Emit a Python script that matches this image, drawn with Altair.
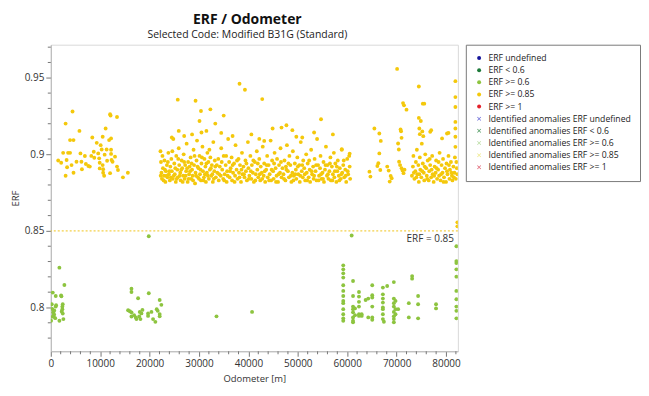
import altair as alt
import pandas as pd

# ---------------- data ----------------
categories = [
    "ERF undefined", "ERF < 0.6", "ERF >= 0.6", "ERF >= 0.85", "ERF >= 1",
    "Identified anomalies ERF undefined", "Identified anomalies ERF < 0.6",
    "Identified anomalies ERF >= 0.6", "Identified anomalies ERF >= 0.85",
    "Identified anomalies ERF >= 1",
]

# yellow points (ERF >= 0.85): (odometer m, ERF)
yellow_west = [
    (2100, 0.8945), (3000, 0.9201), (3000, 0.8860), (3200, 0.8963), (3300, 0.8916),
    (3500, 0.9010), (3900, 0.9010), (3900, 0.9093), (4400, 0.9280), (4600, 0.9093),
    (4600, 0.8880), (5200, 0.8952), (5800, 0.9153), (6000, 0.9006), (6200, 0.8952),
    (6300, 0.8903), (6900, 0.8989), (7100, 0.8937), (7600, 0.8924), (7900, 0.8920),
    (8400, 0.9110), (8700, 0.9017), (8800, 0.8978), (9300, 0.9075), (9600, 0.9006),
    (9900, 0.8945), (9900, 0.8908), (10100, 0.9060), (10300, 0.9032), (10500, 0.8930),
    (10600, 0.8903), (10600, 0.8880), (10800, 0.8860), (10900, 0.8998), (11100, 0.9169),
    (11300, 0.9032), (11400, 0.8958), (11800, 0.9093), (12000, 0.9262), (12100, 0.9253),
    (12200, 0.9030), (12200, 0.9003), (12200, 0.9104), (12300, 0.8963), (12000, 0.8877),
    (12500, 0.8952), (13000, 0.8985), (13400, 0.9244), (13400, 0.8920), (13600, 0.8898),
    (14600, 0.8850), (15600, 0.8880), (10500, 0.9115), (1500, 0.8960), (2500, 0.9010),
    (9800, 0.8974), (8200, 0.8990), (4200, 0.8930),
]

yellow_mid_a = [
    (22200, 0.902), (22300, 0.895), (22400, 0.888), (22500, 0.884), (22700, 0.891),
    (22900, 0.886), (23000, 0.896), (23200, 0.882), (23300, 0.889), (23500, 0.893),
    (23600, 0.885), (23800, 0.901), (23900, 0.887), (24100, 0.883), (24200, 0.892),
    (24400, 0.897), (24500, 0.889), (24700, 0.884), (24800, 0.910), (25000, 0.894),
    (25100, 0.887), (25300, 0.882), (25400, 0.899), (25600, 0.890), (25700, 0.885),
    (25900, 0.904), (26000, 0.893), (26200, 0.888), (26300, 0.883), (26500, 0.896),
    (26600, 0.891), (26800, 0.886), (26900, 0.900), (27100, 0.884), (27200, 0.893),
    (27400, 0.889), (27500, 0.907), (27700, 0.882), (27800, 0.895), (28000, 0.887),
    (28100, 0.892), (28300, 0.898), (28400, 0.884), (28600, 0.890), (28700, 0.886),
    (28900, 0.903), (29000, 0.893), (29200, 0.881), (29300, 0.888), (29500, 0.896),
    (29600, 0.909), (29800, 0.885), (29900, 0.891), (30100, 0.899), (30200, 0.887),
    (30400, 0.883), (30500, 0.894), (30700, 0.905), (30800, 0.889), (31000, 0.885),
    (31100, 0.897), (31300, 0.892), (31400, 0.882), (31600, 0.888), (31700, 0.901),
    (31900, 0.895), (32000, 0.884), (32200, 0.890), (32300, 0.898), (32500, 0.886),
    (32600, 0.893), (32800, 0.882), (32900, 0.908), (33100, 0.889), (33200, 0.896),
    (33400, 0.885),
    (22250, 0.886), (22600, 0.899), (22850, 0.883), (23100, 0.890), (23400, 0.886),
    (23700, 0.895), (24000, 0.889), (24300, 0.885), (24600, 0.902), (24900, 0.886),
    (25200, 0.891), (25500, 0.884), (25800, 0.897), (26100, 0.886), (26400, 0.890),
    (26700, 0.882), (27000, 0.895), (27300, 0.886), (27600, 0.891), (27900, 0.884),
    (28200, 0.889), (28500, 0.894), (28800, 0.883), (29100, 0.899), (29400, 0.886),
    (29700, 0.892), (30000, 0.884), (30300, 0.890), (30600, 0.898), (30900, 0.883),
    (31200, 0.887), (31500, 0.894), (31800, 0.886), (32100, 0.903), (32400, 0.891),
    (32700, 0.887), (33000, 0.884), (33300, 0.892),
]

yellow_mid_b = [
    (33700, 0.888), (33900, 0.897), (34000, 0.883), (34200, 0.892), (34400, 0.886),
    (34500, 0.904), (34700, 0.890), (34900, 0.884), (35000, 0.899), (35200, 0.887),
    (35400, 0.893), (35600, 0.882), (35700, 0.889), (35900, 0.910), (36100, 0.895),
    (36200, 0.885), (36400, 0.891), (36600, 0.898), (36700, 0.883), (36900, 0.888),
    (37100, 0.894), (37300, 0.886), (37400, 0.906), (37600, 0.890), (37800, 0.884),
    (38000, 0.897), (38100, 0.888), (38300, 0.893), (38500, 0.882), (38700, 0.901),
    (38800, 0.887), (39000, 0.892), (39200, 0.885), (39400, 0.896), (39500, 0.889),
    (39700, 0.883), (39900, 0.908), (40000, 0.891), (40200, 0.886), (40400, 0.899),
    (40600, 0.884), (40700, 0.893), (40900, 0.888), (41100, 0.882), (41300, 0.895),
    (41500, 0.887), (41700, 0.902), (41800, 0.890), (42000, 0.885), (42200, 0.897),
    (42400, 0.883), (42500, 0.892), (42700, 0.888), (42900, 0.905), (43100, 0.886),
    (43200, 0.894), (43400, 0.882), (43600, 0.890), (43800, 0.899), (43900, 0.885),
    (44100, 0.893), (44300, 0.887), (44500, 0.909), (44600, 0.883), (44800, 0.896),
    (45000, 0.889), (45100, 0.884), (45300, 0.901), (45500, 0.891), (45700, 0.886),
    (45800, 0.897), (46000, 0.882), (46200, 0.893), (46400, 0.888), (46500, 0.904),
    (46700, 0.885), (46900, 0.891),
    (33600, 0.893), (34100, 0.887), (34600, 0.895), (35100, 0.883), (35500, 0.899),
    (35800, 0.886), (36300, 0.889), (36800, 0.893), (37200, 0.882), (37700, 0.896),
    (38200, 0.885), (38600, 0.890), (39100, 0.887), (39600, 0.894), (40100, 0.884),
    (40500, 0.889), (41000, 0.896), (41400, 0.883), (41900, 0.894), (42300, 0.887),
    (42800, 0.884), (43300, 0.889), (43700, 0.893), (44200, 0.883), (44700, 0.890),
    (45200, 0.894), (45600, 0.882), (46100, 0.887), (46600, 0.895),
]

yellow_mid_c = [
    (47100, 0.887), (47300, 0.896), (47500, 0.883), (47600, 0.892), (47800, 0.906),
    (48000, 0.889), (48200, 0.885), (48300, 0.899), (48500, 0.893), (48700, 0.882),
    (48900, 0.888), (49000, 0.902), (49200, 0.886), (49400, 0.894), (49600, 0.890),
    (49700, 0.884), (49900, 0.898), (50100, 0.887), (50300, 0.893), (50400, 0.882),
    (50600, 0.908), (50800, 0.889), (51000, 0.885), (51100, 0.896), (51300, 0.891),
    (51500, 0.883), (51700, 0.900), (51800, 0.888), (52000, 0.894), (52200, 0.885),
    (52400, 0.890), (52500, 0.882), (52700, 0.903), (52900, 0.887), (53100, 0.892),
    (53200, 0.884), (53400, 0.897), (53600, 0.889), (53800, 0.883), (53900, 0.910),
    (54100, 0.893), (54300, 0.886), (54500, 0.891), (54600, 0.899), (54800, 0.884),
    (55000, 0.888), (55200, 0.895), (55300, 0.882), (55500, 0.890), (55700, 0.905),
    (55900, 0.886), (56000, 0.893), (56200, 0.884), (56400, 0.889), (56600, 0.898),
    (56700, 0.883), (56900, 0.892), (57100, 0.887), (57300, 0.901), (57400, 0.885),
    (57600, 0.894), (57800, 0.882), (58000, 0.889), (58100, 0.896), (58300, 0.886),
    (58500, 0.891), (58700, 0.884), (58900, 0.903), (59000, 0.888), (59200, 0.893),
    (59400, 0.885), (59600, 0.890), (59800, 0.882), (60000, 0.897), (60200, 0.887),
    (60400, 0.899), (60500, 0.892), (60600, 0.884),
    (47200, 0.884), (47700, 0.890), (48100, 0.894), (48600, 0.886), (49100, 0.883),
    (49500, 0.887), (50000, 0.892), (50500, 0.886), (50900, 0.893), (51400, 0.887),
    (51900, 0.883), (52300, 0.896), (52800, 0.889), (53300, 0.886), (53700, 0.893),
    (54200, 0.883), (54700, 0.887), (55100, 0.884), (55600, 0.893), (56100, 0.887),
    (56500, 0.894), (57000, 0.883), (57500, 0.889), (57900, 0.892), (58400, 0.883),
    (58800, 0.887), (59300, 0.896), (59700, 0.886), (60100, 0.889),
]

yellow_mid_high = [
    (25700, 0.9357), (29300, 0.9350), (30400, 0.9283), (32300, 0.9294), (30100, 0.9218),
    (25900, 0.9153), (33300, 0.9201), (35000, 0.9253), (30500, 0.9143), (31500, 0.9153),
    (38200, 0.9461), (39300, 0.9422), (42800, 0.9361), (44900, 0.9169), (46700, 0.9175),
    (47700, 0.9190), (48900, 0.9158), (49700, 0.9115), (50900, 0.9110), (53300, 0.9143),
    (54700, 0.9229), (57100, 0.9130), (42200, 0.9101), (43200, 0.9088), (58900, 0.9034),
    (60500, 0.9005), (27000, 0.9120), (28600, 0.9130), (34500, 0.9140), (36800, 0.9120),
    (40600, 0.9130), (24500, 0.9110),
]

yellow_east = [
    (64500, 0.8887), (64700, 0.8855), (65500, 0.9169), (66300, 0.8942), (66500, 0.9006),
    (66500, 0.9136), (66700, 0.8898), (66800, 0.9088), (66100, 0.8924), (68100, 0.8920),
    (68400, 0.8894), (68800, 0.8859), (69000, 0.8844), (68600, 0.8822),
    (70100, 0.9558), (71300, 0.9335), (71500, 0.9320), (72000, 0.9292),
    (70800, 0.9162), (70900, 0.9151), (71000, 0.9108), (70300, 0.9071), (70450, 0.9032),
    (70500, 0.8952), (70700, 0.8930), (71000, 0.8910), (71200, 0.8895), (71400, 0.8877),
    (71600, 0.8900),
    (74500, 0.9443), (75300, 0.9331), (75600, 0.9331), (74500, 0.9238), (74900, 0.9218),
    (74600, 0.9169), (75200, 0.9150), (76800, 0.9147), (74700, 0.9132), (75400, 0.9119),
    (77000, 0.9158), (79200, 0.9104), (80200, 0.9136), (80500, 0.9140),
    (81900, 0.9478), (81900, 0.9374), (81900, 0.9309), (81900, 0.9212), (81900, 0.9169),
    (81900, 0.9115), (81900, 0.9049), (82300, 0.8556), (82300, 0.8530),
    (73100, 0.886), (73300, 0.892), (73400, 0.899), (73600, 0.884), (73800, 0.889),
    (73900, 0.895), (74100, 0.903), (74200, 0.887), (74400, 0.893), (74500, 0.882),
    (74700, 0.898), (74800, 0.890), (75000, 0.885), (75100, 0.907), (75300, 0.894),
    (75500, 0.888), (75600, 0.883), (75800, 0.900), (76000, 0.891), (76100, 0.886),
    (76300, 0.896), (76500, 0.883), (76600, 0.889), (76800, 0.893), (77000, 0.885),
    (77200, 0.899), (77300, 0.887), (77500, 0.882), (77700, 0.892), (77900, 0.888),
    (78000, 0.896), (78200, 0.884), (78400, 0.890), (78600, 0.886), (78700, 0.901),
    (78900, 0.883), (79100, 0.893), (79300, 0.888), (79400, 0.897), (79600, 0.885),
    (79800, 0.891), (80000, 0.882), (80100, 0.894), (80300, 0.887), (80500, 0.899),
    (80700, 0.884), (80800, 0.890), (81000, 0.895), (81200, 0.886), (81300, 0.883),
    (81500, 0.892), (81700, 0.888), (81800, 0.898), (82000, 0.884), (82200, 0.891),
    (82300, 0.887),
    (73500, 0.888), (74000, 0.885), (74600, 0.887), (75200, 0.889), (75700, 0.892),
    (76200, 0.884), (76700, 0.897), (77100, 0.890), (77600, 0.886), (78100, 0.891),
    (78500, 0.895), (79000, 0.887), (79500, 0.882), (80200, 0.889), (80600, 0.893),
    (81100, 0.888), (81600, 0.885), (82100, 0.895),
]

# green points (ERF >= 0.6)
green_west = [
    (60, 0.7913), (200, 0.8021), (300, 0.7990), (400, 0.8097), (500, 0.7968),
    (600, 0.7945), (660, 0.7955), (700, 0.7980), (1000, 0.8075), (1000, 0.8006),
    (1070, 0.8015), (1740, 0.8260), (1740, 0.7913), (2080, 0.8078), (2150, 0.8073),
    (2210, 0.7974), (2340, 0.8006), (2340, 0.7989), (2420, 0.8021), (2420, 0.7960),
    (2550, 0.7924), (2750, 0.8147), (400, 0.7940), (900, 0.7930),
]

green_mid = [
    (16330, 0.8123), (16330, 0.8101), (17670, 0.8060), (19830, 0.8465), (19830, 0.8093),
    (22040, 0.8049), (22380, 0.8017), (15650, 0.7982), (16000, 0.7975), (16330, 0.7968),
    (16860, 0.7950), (17200, 0.7935), (18010, 0.7971), (18350, 0.7961), (18150, 0.7924),
    (17900, 0.7941), (18550, 0.7984), (19690, 0.7961), (19690, 0.7945), (20370, 0.7971),
    (20700, 0.7924), (21170, 0.7906), (21440, 0.7989), (21640, 0.7978), (22040, 0.7957),
    (22040, 0.7942), (17340, 0.7924), (16330, 0.7941),
    (33540, 0.7942), (40740, 0.7971), (60900, 0.8470),
]

green_east = [
    (59200, 0.8275), (59200, 0.8249), (59200, 0.8223), (59200, 0.8195), (59200, 0.8145),
    (59200, 0.8108), (59200, 0.8075), (59200, 0.8043), (59200, 0.8028), (59200, 0.7989),
    (59200, 0.7956), (59200, 0.7929), (59200, 0.7913),
    (61180, 0.8173), (61180, 0.8075), (61180, 0.8006), (61180, 0.7989), (61180, 0.7968),
    (61180, 0.7935), (61180, 0.7913), (61180, 0.7903),
    (61580, 0.7994), (61580, 0.7950),
    (62380, 0.8101), (62380, 0.8071), (62380, 0.8037), (62380, 0.8006), (62380, 0.7956),
    (62380, 0.7945), (62930, 0.7956), (62930, 0.7945), (63730, 0.8049),
    (64260, 0.8058), (64260, 0.7935),
    (65070, 0.8145), (65070, 0.8080), (65070, 0.8065), (65070, 0.8006), (65070, 0.7935),
    (65070, 0.7920),
    (67220, 0.8130), (67220, 0.8086), (67220, 0.8058), (67220, 0.8032), (67220, 0.8000),
    (67220, 0.7989), (67220, 0.7956), (67220, 0.7924), (67430, 0.7907), (68090, 0.8140),
    (69440, 0.8166), (69440, 0.8058), (69440, 0.8028), (69440, 0.8006), (69440, 0.7971),
    (69440, 0.7942), (69440, 0.7924), (69440, 0.7903),
    (69780, 0.8043), (69780, 0.7989), (69780, 0.7956), (70310, 0.7989),
    (72470, 0.8028), (72470, 0.7935), (73140, 0.8205), (73140, 0.8188),
    (74350, 0.8075), (74350, 0.8021), (74350, 0.7929), (77980, 0.8021), (77980, 0.7994),
    (82100, 0.8400), (82100, 0.8303), (82100, 0.8290), (82100, 0.8249), (82100, 0.8201),
    (82100, 0.8108), (82100, 0.8054), (82100, 0.8006), (82100, 0.7978), (82100, 0.7929),
]

threshold_value = 0.85
threshold_label = "ERF = 0.85"
x_domain = [0, 82400]
y_domain = [0.7714, 0.9716]
x_major_ticks = [0, 10000, 20000, 30000, 40000, 50000, 60000, 70000, 80000]
x_minor_ticks = [2000, 4000, 6000, 8000, 12000, 14000, 16000, 18000, 22000, 24000, 26000,
                 28000, 32000, 34000, 36000, 38000, 42000, 44000, 46000, 48000, 52000,
                 54000, 56000, 58000, 62000, 64000, 66000, 68000, 72000, 74000, 76000,
                 78000, 82000]
y_major_ticks = [0.80, 0.85, 0.90, 0.95]
y_minor_ticks = [0.78, 0.79, 0.81, 0.82, 0.83, 0.84, 0.86, 0.87, 0.88, 0.89,
                 0.91, 0.92, 0.93, 0.94, 0.96, 0.97]

# ---------------- styling ----------------
FONT = "Open Sans"
W, H = 409, 308
TICK = "#777777"
X_SHAPE = "M-0.75,-1L0,-0.25L0.75,-1L1,-0.75L0.25,0L1,0.75L0.75,1L0,0.25L-0.75,1L-1,0.75L-0.25,0L-1,-0.75Z"
legend_colors = ["#14149a", "#1d7a3a", "#8dc43f", "#f4c80b", "#e3202a",
                 "#6a6ad8", "#4f9a60", "#b9dca2", "#efe98a", "#e06474"]
legend_shapes = ["circle"] * 5 + [X_SHAPE] * 5

rows = []
for odo, erf in yellow_west + yellow_mid_a + yellow_mid_b + yellow_mid_c + yellow_mid_high + yellow_east:
    rows.append({"odometer": odo, "erf": erf, "category": "ERF >= 0.85"})
for odo, erf in green_west + green_mid + green_east:
    rows.append({"odometer": odo, "erf": erf, "category": "ERF >= 0.6"})
df = pd.DataFrame(rows)

x_scale = alt.Scale(domain=x_domain, nice=False, zero=False)
y_scale = alt.Scale(domain=y_domain, nice=False, zero=False)

x_axis = alt.Axis(values=x_major_ticks, format="d", tickSize=5, labelFlush=False)
y_axis = alt.Axis(values=y_major_ticks, format=".2~f", tickSize=5)

points = alt.Chart(df).mark_point(filled=True, size=15, opacity=1, clip=True).encode(
    x=alt.X("odometer:Q", scale=x_scale, axis=x_axis, title="Odometer [m]"),
    y=alt.Y("erf:Q", scale=y_scale, axis=y_axis, title="ERF"),
    color=alt.Color("category:N", scale=alt.Scale(domain=categories, range=legend_colors),
                    legend=alt.Legend(title=None)),
    shape=alt.Shape("category:N", scale=alt.Scale(domain=categories, range=legend_shapes),
                    legend=alt.Legend(title=None)),
)

thr_df = pd.DataFrame({"erf": [threshold_value], "odometer": [x_domain[1]], "label": [threshold_label]})

rule = alt.Chart(thr_df).mark_rule(color="#f0c419", strokeDash=[2, 2], strokeWidth=1).encode(
    y=alt.Y("erf:Q", scale=y_scale, title="ERF"),
)
label = alt.Chart(thr_df).mark_text(align="right", baseline="middle", dx=-4, dy=8,
                                    fontSize=10, font=FONT, color="#333333").encode(
    x=alt.X("odometer:Q", scale=x_scale, title="Odometer [m]"),
    y=alt.Y("erf:Q", scale=y_scale, title="ERF"),
    text="label:N",
)

y_minor = alt.Chart(pd.DataFrame({"erf": y_minor_ticks})).mark_rule(
    color=TICK, strokeWidth=1, clip=False).encode(
    y=alt.Y("erf:Q", scale=y_scale, title="ERF"),
    x=alt.value(-3), x2=alt.value(0),
)
x_minor = alt.Chart(pd.DataFrame({"odometer": x_minor_ticks})).mark_rule(
    color=TICK, strokeWidth=1, clip=False).encode(
    x=alt.X("odometer:Q", scale=x_scale, title="Odometer [m]"),
    y=alt.value(H), y2=alt.value(H + 3),
)

chart = alt.layer(points, rule, label, y_minor, x_minor).properties(
    width=W,
    height=H,
    padding={"left": 2, "top": 4, "right": 0, "bottom": 0},
    title=alt.TitleParams(
        text="ERF / Odometer",
        subtitle="Selected Code: Modified B31G (Standard)",
        fontSize=14, fontWeight="bold", font=FONT, color="#111111",
        subtitleFontSize=10.5, subtitleFont=FONT, subtitleColor="#222222",
        subtitlePadding=3, offset=4, anchor="middle", dx=-7,
    ),
).configure_view(
    stroke="#d9d9d9", strokeWidth=1,
).configure_axis(
    grid=False, domainColor="#b5b5b5", tickColor=TICK,
    labelColor="#333333", labelFont=FONT, labelFontSize=10, labelPadding=2,
    titleColor="#333333", titleFont=FONT, titleFontSize=9.5, titleFontWeight="normal",
).configure_axisY(
    titlePadding=4,
).configure_axisX(
    titlePadding=5,
).configure_legend(
    orient="right", offset=8, padding=9, strokeColor="#7a7a7a", fillColor="white",
    labelFont=FONT, labelFontSize=8.7, labelColor="#222222", labelLimit=300,
    symbolSize=16, symbolStrokeWidth=0, rowPadding=2.2, labelOffset=5,
    cornerRadius=0,
)

chart.save("out.html", embed_options={"renderer": "svg", "actions": False})
